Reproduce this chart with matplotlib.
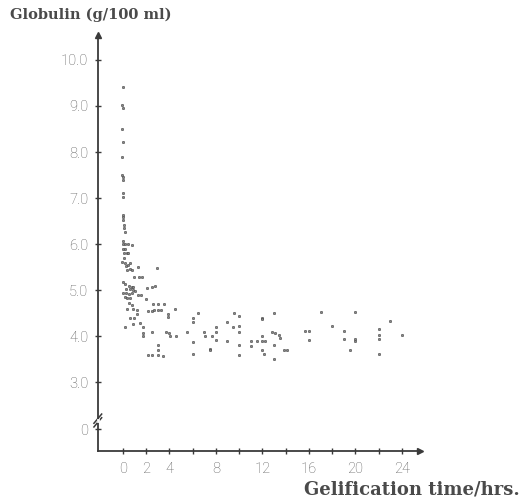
import numpy as np
import matplotlib.pyplot as plt

# gelification time (hrs) and globulin (g/100 ml)
time_hrs = [0.0, -0.05, 0.0, -0.05, 0.03, -0.05, -0.05, 0.0, 0.05, 0.0, 0.02,
            0.0, 0.05, 0.05, 0.1, 0.1, 0.15, 0.0, 0.03, 0.23, 0.46, 0.75,
            0.03, 0.2, 0.1, 0.35, 0.45, 0.1, -0.03, 0.17, 0.66, 0.26, 0.46,
            0.6, 0.75, 0.37, 1.32, 2.98, 0.95, 1.4, 1.69, 0.03, 0.17, 0.5,
            0.75, 0.9, 0.6, 0.85, 1.05, 0.3, 2.47, 2.75, 2.04, 0.03, 0.3,
            0.55, 0.75, 1.32, 1.6, 0.15, 0.4, 0.6, 2.0, 0.5, 0.8, 2.6, 3.0,
            3.5, 0.4, 0.9, 1.2, 2.2, 2.5, 2.7, 3.0, 3.3, 4.47, 3.9, 3.9,
            1.26, 0.6, 1.0, 0.85, 1.5, 0.17, 1.75, 1.7, 1.75, 2.47, 3.75,
            3.98, 4.04, 4.6, 5.5, 6.0, 6.0, 6.5, 6.0, 6.0, 3.04, 3.04, 2.18,
            2.47, 3.04, 3.47, 7.5,
            6.97, 7.03, 7.5, 8.0, 8.0, 8.0, 7.7, 8.98, 8.98, 9.5, 9.6, 10.0,
            10.0, 10.0, 10.0, 10.0, 11.0, 11.0, 11.5, 12.0, 12.2, 12.0, 12.0,
            12.0, 12.0, 12.1, 13.0, 12.8, 13.1, 13.4, 13.5, 13.0, 13.0, 13.9,
            14.1, 15.7, 16.0, 16.0, 17.0, 18.0, 19.0, 19.0, 19.5, 20.0, 20.0,
            20.0, 22.0, 22.0, 22.0, 22.0, 23.0, 24.0]
globulin = [9.41, 9.02, 8.95, 8.49, 8.21, 7.90, 7.50, 7.45, 7.39, 7.10, 7.03,
            6.63, 6.59, 6.52, 6.41, 6.34, 6.27, 6.07, 6.00, 6.00, 6.00, 5.99,
            5.90, 5.90, 5.80, 5.80, 5.80, 5.69, 5.62, 5.58, 5.58, 5.53, 5.54,
            5.47, 5.43, 5.43, 5.50, 5.49, 5.29, 5.29, 5.29, 5.18, 5.14, 5.10,
            5.08, 5.06, 5.02, 5.00, 4.98, 5.03, 5.07, 5.09, 5.04, 4.93, 4.93,
            4.92, 4.93, 4.90, 4.89, 4.85, 4.84, 4.83, 4.80, 4.72, 4.67, 4.69,
            4.69, 4.69, 4.60, 4.60, 4.58, 4.55, 4.54, 4.56, 4.57, 4.56, 4.60,
            4.49, 4.42, 4.49, 4.40, 4.40, 4.27, 4.28, 4.19, 4.19, 4.07, 4.00,
            4.10, 4.10, 4.06, 4.00, 4.00, 4.09, 4.40, 4.31, 4.50, 3.88, 3.61,
            3.80, 3.70, 3.60, 3.60, 3.60, 3.58, 3.73,
            4.09, 4.00, 3.71, 4.20, 4.09, 3.91, 4.01, 4.30, 3.90, 4.20, 4.50,
            4.43, 4.22, 4.09, 3.82, 3.60, 3.90, 3.79, 3.90, 3.90, 3.90, 4.40,
            4.38, 4.01, 3.71, 3.61, 4.50, 4.09, 4.06, 4.02, 3.96, 3.80, 3.50,
            3.70, 3.71, 4.12, 4.12, 3.91, 4.52, 4.22, 4.12, 3.93, 3.71, 4.53,
            3.93, 3.90, 4.15, 4.02, 3.93, 3.62, 4.33, 4.02]

x_ticks = [0, 2, 4, 6, 8, 10, 12, 14, 16, 18, 20, 22, 24]
x_labels = ['0', '2', '4', '', '8', '', '12', '', '16', '', '20', '', '24']
y_labels = ['0', '3.0', '4.0', '5.0', '6.0', '7.0', '8.0', '9.0', '10.0']

zero_pos = 1.98  # where "0" sits below the axis break
y_ticks = [zero_pos, 3, 4, 5, 6, 7, 8, 9, 10]

ink = '#3a3a3a'
grey = '#5e5e5e'

fig = plt.figure(figsize=(5.23, 5.01), dpi=100)
ax = fig.add_axes([0.187, 0.1, 0.616, 0.83])

ax.scatter(time_hrs, globulin, s=3, facecolor='#8a8a8a', edgecolor='#444444',
           linewidth=0.4, zorder=3)

ax.set_xlim(-2.15, 25.55)
ax.set_ylim(1.51, 10.54)

for s in ['top', 'right']:
    ax.spines[s].set_visible(False)
for s in ['left', 'bottom']:
    ax.spines[s].set_color(ink)
    ax.spines[s].set_linewidth(1.3)

ax.set_xticks(x_ticks)
ax.set_xticklabels(x_labels)
ax.set_yticks(y_ticks)
ax.set_yticklabels(y_labels)
ax.tick_params(direction='inout', length=4, width=1, color=ink,
               labelcolor=grey, labelsize=10.5)
ax.tick_params(axis='x', pad=6)
ax.tick_params(axis='y', pad=5)
for lab in ax.get_xticklabels() + ax.get_yticklabels():
    lab.set_family(['Roboto', 'DejaVu Sans'])
    lab.set_weight('light')

# arrow heads at the axis ends
ax.plot(1, 0, '>', color=ink, ms=4, transform=ax.transAxes, clip_on=False)
ax.plot(0, 1, '^', color=ink, ms=4, transform=ax.transAxes, clip_on=False)

# axis break marks
trans = ax.get_yaxis_transform()
for yb in [2.13, 2.21]:
    ax.plot([-0.012, 0.012], [yb - 0.1, yb + 0.1], color=ink, lw=1.1,
            transform=trans, clip_on=False)
ax.plot([0, 0], [2.15, 2.19], color='white', lw=2, transform=trans,
        clip_on=False, zorder=4)

fig.text(0.019, 0.97, 'Globulin (g/100 ml)', family='DejaVu Serif',
         weight='bold', size=10.5, color='#4a4a4a', va='center', ha='left')
fig.text(0.994, 0.022, 'Gelification time/hrs.', family='DejaVu Serif',
         weight='bold', size=13, color='#4a4a4a', va='center', ha='right')

fig.savefig('out.png', dpi=100)
